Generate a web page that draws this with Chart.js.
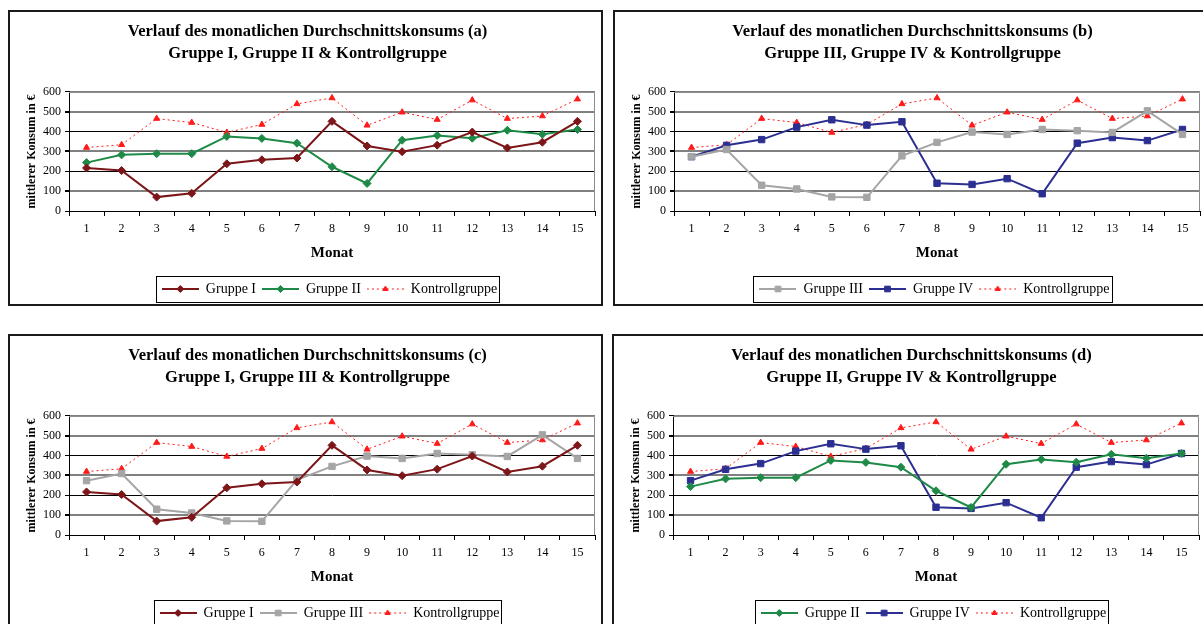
<!DOCTYPE html>
<html>
<head>
<meta charset="utf-8">
<script src="https://cdn.jsdelivr.net/npm/chart.js@4.4.1/dist/chart.umd.min.js"></script>
<style>
  body { margin: 0; background: #fff; width: 1203px; height: 624px; overflow: hidden; position: relative; }
  .panel { position: absolute; width: 591px; height: 292px; border: 2px solid #1a1a1a; overflow: hidden; background: #fff; }
  canvas { display: block; }
</style>
</head>
<body>
<div class="panel" style="left:8px;top:10px"><canvas id="chartA" width="591" height="294"></canvas></div>
<div class="panel" style="left:613px;top:10px"><canvas id="chartB" width="591" height="294"></canvas></div>
<div class="panel" style="left:8px;top:334px"><canvas id="chartC" width="591" height="294"></canvas></div>
<div class="panel" style="left:612px;top:334px"><canvas id="chartD" width="591" height="294"></canvas></div>
<script>
const months = ["1", "2", "3", "4", "5", "6", "7", "8", "9", "10", "11", "12", "13", "14", "15"];
const gruppeI = [217, 204, 70, 89, 238, 258, 267, 452, 328, 299, 332, 398, 318, 347, 452];
const gruppeII = [244, 283, 289, 289, 376, 366, 342, 223, 139, 357, 381, 367, 407, 387, 411];
const gruppeIII = [274, 310, 130, 111, 71, 69, 278, 346, 398, 386, 411, 405, 396, 505, 386];
const gruppeIV = [274, 331, 360, 423, 460, 433, 450, 140, 134, 163, 87, 342, 370, 355, 411];
const kontrollgruppe = [320, 334, 466, 446, 396, 436, 540, 570, 432, 498, 461, 559, 466, 479, 564];

const serif = "'Liberation Serif', 'Times New Roman', serif";

const looks = {
  "Gruppe I": { color: "#7d1619", point: "rectRot", radius: 4 },
  "Gruppe II": { color: "#1f8a47", point: "rectRot", radius: 4 },
  "Gruppe III": { color: "#a5a5a5", point: "rect", radius: 4.5 },
  "Gruppe IV": { color: "#2b2f91", point: "rect", radius: 4.5 },
  "Kontrollgruppe": { color: "#ff1a1a", point: "triangle", radius: 3.5, dotted: true },
};

// little line+marker picture for the legend
function sample(look) {
  const c = document.createElement("canvas");
  c.width = 37;
  c.height = 12;
  const g = c.getContext("2d");
  g.strokeStyle = look.color;
  g.lineWidth = look.dotted ? 1 : 2;
  if (look.dotted) g.setLineDash([2, 3]);
  g.beginPath();
  g.moveTo(0, 6);
  g.lineTo(37, 6);
  g.stroke();
  g.setLineDash([]);
  g.fillStyle = look.color;
  g.lineWidth = 1;
  Chart.helpers.drawPoint(g, { pointStyle: look.point, radius: look.radius - 0.5, borderWidth: 1 }, 18.5, 6);
  return c;
}

const frame = {
  id: "frame",
  afterLayout(chart) {
    chart.legend.left += 44;
  },
  beforeDatasetsDraw(chart) {
    const { ctx, chartArea: a } = chart;
    ctx.save();
    ctx.strokeStyle = "#8c8c8c";
    ctx.lineWidth = 1;
    ctx.beginPath();
    ctx.moveTo(a.left, a.top + 0.5);
    ctx.lineTo(a.right - 0.5, a.top + 0.5);
    ctx.lineTo(a.right - 0.5, a.bottom);
    ctx.stroke();
    ctx.restore();
  },
  afterDraw(chart) {
    const boxes = chart.legend.legendHitBoxes;
    const first = boxes[0];
    const last = boxes[boxes.length - 1];
    const l = Math.round(first.left - 6);
    const r = Math.round(last.left + last.width + 2);
    const cy = Math.round(first.top + first.height / 2);
    const ctx = chart.ctx;
    ctx.save();
    ctx.strokeStyle = "#000";
    ctx.lineWidth = 1;
    ctx.strokeRect(l + 0.5, cy - 13 + 0.5, r - l, 26);
    ctx.restore();
  },
};

function gridColor(c) {
  const v = c.tick && c.tick.value;
  if (v === 400 || v === 200) return "#000";
  return "#808080";
}
function gridWidth(c) {
  const v = c.tick && c.tick.value;
  if (v === 500 || v === 300 || v === 100) return 2;
  return 1;
}

function makeChart(id, letter, subtitle, series) {
  const datasets = series.map(([name, values]) => {
    const look = looks[name];
    return {
      label: name,
      data: values,
      borderColor: look.color,
      backgroundColor: look.color,
      borderWidth: look.dotted ? 1 : 2,
      borderDash: look.dotted ? [2, 3] : [],
      pointStyle: look.point,
      pointRadius: look.radius,
      pointBorderWidth: 1,
      pointBackgroundColor: look.color,
      pointBorderColor: look.color,
      tension: 0,
      fill: false,
    };
  });

  new Chart(id, {
    type: "line",
    data: { labels: months, datasets: datasets },
    plugins: [frame],
    options: {
      responsive: false,
      animation: false,
      layout: { padding: { left: 10, right: 6, top: 0, bottom: 0 } },
      plugins: {
        title: {
          display: true,
          text: ["Verlauf des monatlichen Durchschnittskonsums " + letter, subtitle],
          color: "#000",
          font: { family: serif, size: 16.5, weight: "bold", lineHeight: 1.333 },
          padding: { top: 9, bottom: 27 },
        },
        legend: {
          position: "bottom",
          labels: {
            color: "#000",
            font: { family: serif, size: 14 },
            usePointStyle: true,
            pointStyleWidth: 37,
            padding: 6,
            generateLabels(chart) {
              const items = Chart.defaults.plugins.legend.labels.generateLabels(chart);
              items.forEach((it) => {
                it.pointStyle = sample(looks[chart.data.datasets[it.datasetIndex].label]);
              });
              return items;
            },
          },
        },
        tooltip: { enabled: false },
      },
      scales: {
        x: {
          offset: true,
          afterFit(scale) { scale.height = 65; },
          grid: { offset: true, drawOnChartArea: false, drawTicks: true, tickLength: 5, color: "#000" },
          border: { color: "#000", width: 1 },
          ticks: { color: "#000", font: { family: serif, size: 12 }, padding: 6, maxRotation: 0, autoSkip: false },
          title: {
            display: true,
            text: "Monat",
            color: "#000",
            font: { family: serif, size: 15, weight: "bold" },
            padding: { top: 0, bottom: 14 },
          },
        },
        y: {
          min: 0,
          max: 600,
          afterFit(scale) { scale.width = 49; },
          grid: { color: gridColor, lineWidth: gridWidth, tickColor: "#000", tickLength: 4, drawTicks: true },
          border: { color: "#000", width: 1 },
          ticks: { stepSize: 100, color: "#000", font: { family: serif, size: 12 }, padding: 4 },
          title: {
            display: true,
            text: "mittlerer Konsum in €",
            color: "#000",
            font: { family: serif, size: 12, weight: "bold" },
            padding: { top: 5, bottom: 0 },
          },
        },
      },
    },
  });
}

makeChart("chartA", "(a)", "Gruppe I, Gruppe II & Kontrollgruppe",
  [["Gruppe I", gruppeI], ["Gruppe II", gruppeII], ["Kontrollgruppe", kontrollgruppe]]);
makeChart("chartB", "(b)", "Gruppe III, Gruppe IV & Kontrollgruppe",
  [["Gruppe III", gruppeIII], ["Gruppe IV", gruppeIV], ["Kontrollgruppe", kontrollgruppe]]);
makeChart("chartC", "(c)", "Gruppe I, Gruppe III & Kontrollgruppe",
  [["Gruppe I", gruppeI], ["Gruppe III", gruppeIII], ["Kontrollgruppe", kontrollgruppe]]);
makeChart("chartD", "(d)", "Gruppe II, Gruppe IV & Kontrollgruppe",
  [["Gruppe II", gruppeII], ["Gruppe IV", gruppeIV], ["Kontrollgruppe", kontrollgruppe]]);
</script>
</body>
</html>
